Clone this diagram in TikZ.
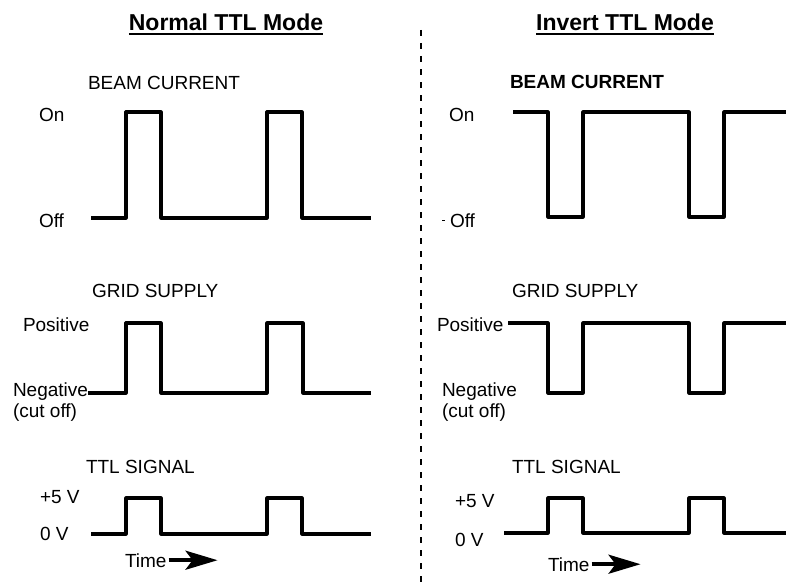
\documentclass[tikz,border=0pt]{standalone}
\usepackage{fontspec}
\setmainfont{Liberation Sans}
\usetikzlibrary{arrows.meta}
\begin{document}
\begin{tikzpicture}[x=1pt,y=-1pt,
  lbl/.style={inner sep=0pt,outer sep=0pt,anchor=base west,font=\fontsize{19}{22}\selectfont},
  ttl/.style={inner sep=0pt,outer sep=0pt,anchor=base,font=\bfseries\fontsize{23}{27}\selectfont},
  wave/.style={line width=3.2pt,line join=round},
  timearrow/.style={line width=3.6pt,-{Stealth[length=32pt,width=19pt,inset=7pt]}},
  divider/.style={line width=2.2pt,dash pattern=on 6pt off 7pt}]
\path[use as bounding box] (0,0) rectangle (786,586);
% titles
\node[ttl] (titleA) at (226,31) {Normal TTL Mode};
\node[ttl] (titleB) at (625,31) {Invert TTL Mode};
\draw[line width=1.8pt] ([yshift=-3pt]titleA.base west) -- ([yshift=-3pt]titleA.base east);
\draw[line width=1.8pt] ([yshift=-3pt]titleB.base west) -- ([yshift=-3pt]titleB.base east);
\draw[divider] (421,30) -- (421,586);
% normal mode
\node[lbl] (beamA) at (88,89) {BEAM CURRENT};
\node[lbl] (onA) at (39,121) {On};
\node[lbl] (offA) at (39,227) {Off};
\draw[wave] (91,218) -| (126,112) -| (161,218) -| (267,112) -| (302,218) -- (371,218);
\node[lbl] (gridA) at (92,297) {GRID SUPPLY};
\node[lbl] (posA) at (23,331) {Positive};
\node[lbl] (negA) at (13,396) {Negative};
\node[lbl] (cutA) at (13,417) {(cut off)};
\draw[wave] (negA.base east |- 0,393) -| (126,323) -| (161,393) -| (267,323) -| (303,393) -- (371,393);
\node[lbl] (sigA) at (86,473) {TTL SIGNAL};
\node[lbl] (hiA) at (40,503) {+5 V};
\node[lbl] (loA) at (40,540) {0 V};
\draw[wave] (91,534) -| (126,498) -| (161,534) -| (267,498) -| (302,534) -- (371,534);
\node[lbl] (tmA) at (125,567) {Time};
\coordinate (tmAend) at ([xshift=51pt]tmA.east);
\draw[timearrow] ([xshift=2pt]tmA.east) -- (tmAend);
% invert mode
\node[lbl,font=\bfseries\fontsize{19}{22}\selectfont] (beamB) at (510,88) {BEAM CURRENT};
\node[lbl] (onB) at (449,121) {On};
\node[lbl] (offB) at (450,227) {Off};
\draw[line width=1pt] (442,220) -- (445,220);
\draw[wave] (513,112) -| (548,217) -| (583,112) -| (689,217) -| (724,112) -- (786,112);
\node[lbl] (gridB) at (512,297) {GRID SUPPLY};
\node[lbl] (posB) at (437,331) {Positive};
\node[lbl] (negB) at (442,396) {Negative};
\node[lbl] (cutB) at (442,417) {(cut off)};
\draw[wave] (508,323) -| (548,393) -| (583,323) -| (689,393) -| (724,323) -- (786,323);
\node[lbl] (sigB) at (512,473) {TTL SIGNAL};
\node[lbl] (hiB) at (455,507) {+5 V};
\node[lbl] (loB) at (455,546) {0 V};
\draw[wave] (504,533) -| (548,498) -| (583,533) -| (689,498) -| (724,533) -- (786,533);
\node[lbl] (tmB) at (548,571) {Time};
\coordinate (tmBend) at ([xshift=51pt]tmB.east);
\draw[timearrow] ([xshift=2pt]tmB.east) -- (tmBend);
\end{tikzpicture}
\end{document}
